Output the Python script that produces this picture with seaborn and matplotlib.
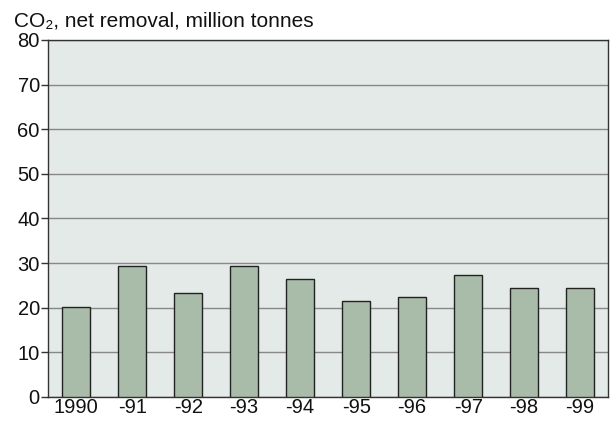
import matplotlib
matplotlib.use("Agg")
import matplotlib.pyplot as plt
import seaborn as sns
import pandas as pd

years = ["1990", "-91", "-92", "-93", "-94", "-95", "-96", "-97", "-98", "-99"]
values = [20.2, 29.4, 23.4, 29.4, 26.4, 21.4, 22.3, 27.4, 24.4, 24.4]

sns.set_theme(style="white")
plt.rcParams['font.family'] = ['Liberation Sans', 'DejaVu Sans']

df = pd.DataFrame({"year": years, "value": values})

fig = plt.figure(figsize=(6.1, 4.25), dpi=100)
ax = fig.add_axes([0.079, 0.066, 0.918, 0.840])
ax.set_facecolor("#e4eae8")
sns.barplot(data=df, x="year", y="value", color="#a9bba9", width=0.5,
            edgecolor="#222222", linewidth=1.0, saturation=1, ax=ax, zorder=3)
ax.set_ylim(0, 80)
ax.set_xlim(-0.5, 9.5)
ax.set_yticks(range(0, 81, 10))
ax.yaxis.grid(True, color="#888888", linewidth=1.0, zorder=0)
ax.set_axisbelow(True)
for s in ax.spines.values():
    s.set_color("#333333")
    s.set_linewidth(1.0)
ax.tick_params(axis="y", length=5, width=1, color="#333333", labelsize=14.5, pad=1, left=True)
ax.tick_params(axis="x", length=0, labelsize=14.5, pad=1)
ax.set_xlabel("")
ax.set_ylabel("")
for lbl in ax.get_xticklabels() + ax.get_yticklabels():
    lbl.set_color("#111111")
fig.text(0.023, 0.937, "CO₂, net removal, million tonnes", fontsize=15, color="#111111",
         ha="left", va="baseline")
fig.savefig("out.png", dpi=100)
